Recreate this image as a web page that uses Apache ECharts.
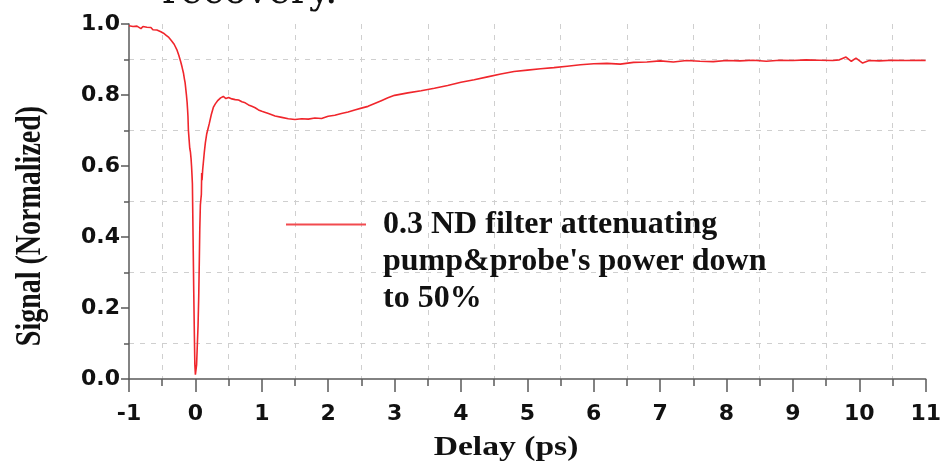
<!DOCTYPE html>
<html>
<head>
<meta charset="utf-8">
<script src="https://cdn.jsdelivr.net/npm/echarts@6/dist/echarts.min.js"></script>
<style>html,body{margin:0;padding:0;background:#fff;}#c{width:944px;height:470px;}</style>
</head>
<body>
<div id="c"></div>
<script>
// Delay (ps)
const delay = [
  -1.00,-0.97,-0.94,-0.91,-0.88,-0.85,-0.82,-0.79,-0.76,-0.73,-0.70,-0.67,-0.64,-0.61,-0.58,-0.55,
  -0.52,-0.48,-0.44,-0.40,-0.36,-0.32,-0.28,-0.25,-0.22,-0.20,-0.18,-0.165,-0.155,-0.145,-0.135,
  -0.125,-0.118,-0.112,-0.105,-0.095,-0.085,-0.075,-0.065,-0.058,-0.050,-0.045,-0.035,-0.025,-0.015,
  -0.008,0.000,0.008,0.018,0.030,0.040,0.050,0.058,0.066,0.075,0.082,0.090,0.095,0.100,0.110,0.120,
  0.135,0.150,0.170,0.190,0.210,0.240,0.270,0.300,0.340,0.380,0.420,0.460,0.500,0.550,0.600,0.650,
  0.700,0.750,0.800,0.850,0.900,0.950,1.00,1.10,1.20,1.30,1.40,1.50,1.60,1.70,1.80,1.90,2.00,2.10,
  2.20,2.30,2.40,2.50,2.60,2.70,2.80,2.90,3.00,3.20,3.40,3.60,3.80,4.00,4.20,4.40,4.60,4.80,5.00,
  5.20,5.40,5.60,5.80,6.00,6.20,6.40,6.60,6.80,7.00,7.20,7.40,7.60,7.80,8.00,8.20,8.40,8.60,8.80,
  9.00,9.20,9.40,9.60,9.70,9.80,9.88,9.95,10.05,10.15,10.30,10.50,10.70,10.90,11.00
];
// Signal (Normalized)
const signal = [
  0.995,0.990,0.993,0.989,0.994,0.990,0.987,0.993,0.988,0.991,0.986,0.990,0.984,0.988,0.983,0.985,
  0.978,0.974,0.968,0.962,0.953,0.943,0.928,0.912,0.893,0.878,0.862,0.845,0.835,0.840,0.800,
  0.780,0.760,0.740,0.700,0.675,0.650,0.640,0.620,0.600,0.570,0.550,0.400,0.250,0.120,
  0.040,0.012,0.015,0.040,0.100,0.150,0.230,0.320,0.420,0.490,0.505,0.520,0.580,0.560,0.590,0.610,
  0.640,0.665,0.690,0.705,0.720,0.745,0.765,0.775,0.785,0.792,0.796,0.790,0.793,0.789,0.787,0.786,
  0.781,0.778,0.772,0.768,0.764,0.758,0.754,0.748,0.741,0.737,0.733,0.731,0.733,0.732,0.735,0.734,0.740,0.743,
  0.748,0.752,0.758,0.763,0.768,0.776,0.784,0.792,0.799,0.806,0.812,0.819,0.827,0.836,0.843,0.851,0.859,0.866,0.870,
  0.874,0.877,0.881,0.885,0.888,0.889,0.887,0.892,0.893,0.896,0.893,0.897,0.895,0.894,0.897,0.896,0.898,0.895,0.898,
  0.897,0.899,0.898,0.897,0.899,0.907,0.895,0.904,0.890,0.897,0.896,0.898,0.897,0.898,0.897
];
const xTicks = [-1,0,1,2,3,4,5,6,7,8,9,10,11];
const yTicks = [0.0,0.2,0.4,0.6,0.8,1.0];
const seriesName = "0.3 ND filter attenuating\npump&probe's power down\nto 50%";
const xName = "Delay (ps)";
const yName = "Signal (Normalized)";
const topText = "recovery.";

const chart = echarts.init(document.getElementById('c'), null, {renderer: 'canvas'});
const axisColor = '#5a5a5a';
const labelFont = {color: '#111', fontFamily: 'DejaVu Sans', fontWeight: 'bold', fontSize: 22};
const pts = delay.map((d, i) => [d, signal[i]]);

chart.setOption({
  animation: false,
  backgroundColor: '#fff',
  grid: {left: 129, right: 16, top: 24, bottom: 91},
  xAxis: {
    type: 'value', min: xTicks[0], max: xTicks[xTicks.length - 1], interval: 1,
    axisLine: {show: true, onZero: false, lineStyle: {color: axisColor, width: 1.5}},
    axisTick: {show: true, length: 13, lineStyle: {color: axisColor, width: 1.5}},
    minorTick: {show: true, splitNumber: 2, length: 7, lineStyle: {color: axisColor, width: 1.5}},
    splitLine: {show: false},
    minorSplitLine: {show: true, lineStyle: {color: '#cfcfcf', type: [5, 6], width: 1}},
    axisLabel: Object.assign({margin: 24, formatter: v => String(v)}, labelFont)
  },
  yAxis: {
    type: 'value', min: yTicks[0], max: yTicks[yTicks.length - 1], interval: 0.2,
    axisLine: {show: true, onZero: false, lineStyle: {color: axisColor, width: 1.5}},
    axisTick: {show: true, length: 8, lineStyle: {color: axisColor, width: 1.5}},
    minorTick: {show: true, splitNumber: 2, length: 5, lineStyle: {color: axisColor, width: 1.5}},
    splitLine: {show: false},
    minorSplitLine: {show: true, lineStyle: {color: '#cfcfcf', type: [5, 6], width: 1}},
    axisLabel: Object.assign({margin: 9, formatter: v => v.toFixed(1)}, labelFont)
  },
  legend: {
    show: true,
    left: 281, top: 127,
    orient: 'vertical',
    icon: 'rect',
    itemWidth: 80, itemHeight: 2,
    itemGap: 0,
    selectedMode: false,
    formatter: name => '\n\n' + name,
    textStyle: {color: '#111', fontFamily: 'Liberation Serif', fontWeight: 'bold', fontSize: 32,
      lineHeight: 37, padding: [0, 0, 0, 12]},
    data: [{name: seriesName, itemStyle: {color: '#f24a4f'}}]
  },
  graphic: [
    {type: 'text', x: 162, y: 13, scaleX: 0.95, style: {text: topText, fill: '#111',
      font: '40px "DejaVu Serif"', verticalAlign: 'bottom'}},
    {type: 'text', x: 506, y: 448, scaleX: 1.2, style: {text: xName, fill: '#111',
      font: 'bold 28px "Liberation Serif"', align: 'center', verticalAlign: 'middle'}},
    {type: 'text', x: 31, y: 226, rotation: Math.PI / 2, scaleX: 1.0, scaleY: 1.25, style: {text: yName, fill: '#111',
      font: 'bold 28px "Liberation Serif"', align: 'center', verticalAlign: 'middle'}}
  ],
  series: [{
    name: seriesName,
    type: 'line',
    data: pts,
    showSymbol: false,
    symbol: 'none',
    lineStyle: {color: '#f0262c', width: 1.6},
    itemStyle: {color: '#f0262c'}
  }]
});
</script>
</body>
</html>
